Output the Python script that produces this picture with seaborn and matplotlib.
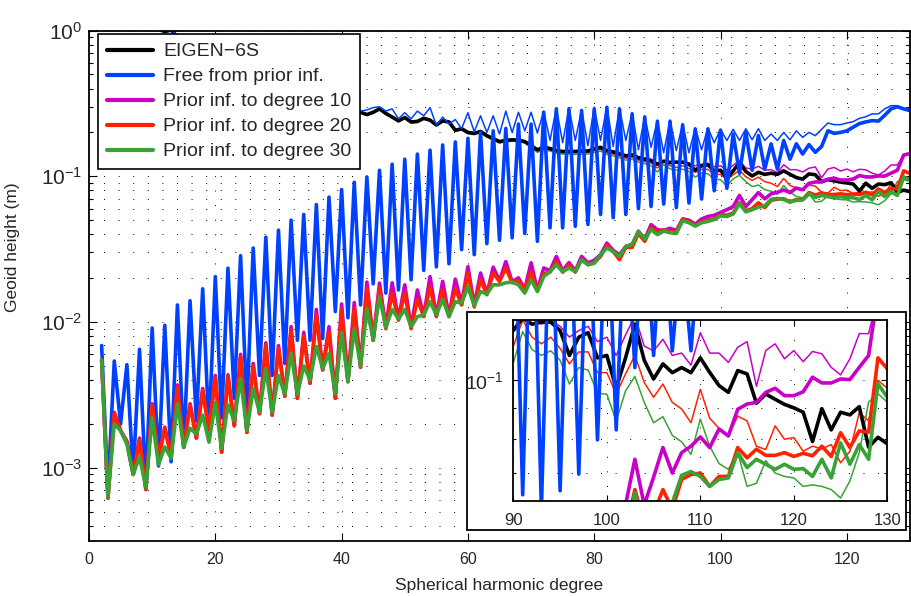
import numpy as np
import pandas as pd
import seaborn as sns
import matplotlib
matplotlib.use("Agg")
import matplotlib.pyplot as plt
from matplotlib.ticker import FixedLocator, NullFormatter, LogFormatterSciNotation
from matplotlib.patches import Rectangle

# ---------------------------------------------------------------------------
# Geoid degree amplitudes (m), spherical harmonic degrees 2..130
# ---------------------------------------------------------------------------
degree = np.arange(2, 131)

eigen6s = [
    2.9, 1.9, 1.75, 1.55, 1.35, 1.45, 1.2, 1.15, 1.05,
    1.02, 0.985, 1.01, 0.9, 0.85, 0.8, 0.74, 0.7, 0.66, 0.62,
    0.58, 0.55, 0.52, 0.5, 0.47, 0.46, 0.44, 0.42, 0.41, 0.39,
    0.38, 0.37, 0.355, 0.345, 0.335, 0.325, 0.315, 0.305, 0.3, 0.29,
    0.285, 0.28, 0.275, 0.265, 0.275, 0.29, 0.27, 0.255, 0.24, 0.253,
    0.236, 0.238, 0.25, 0.243, 0.225, 0.24, 0.236, 0.207, 0.212, 0.2,
    0.197, 0.203, 0.19, 0.181, 0.173, 0.176, 0.178, 0.177, 0.173, 0.162,
    0.152, 0.158, 0.155, 0.15, 0.148, 0.148, 0.148, 0.149, 0.149, 0.154,
    0.158, 0.15, 0.147, 0.143, 0.138, 0.14, 0.134, 0.131, 0.128, 0.121,
    0.127, 0.124, 0.125, 0.125, 0.121, 0.11, 0.118, 0.12, 0.109, 0.11,
    0.097, 0.109, 0.124, 0.108, 0.1005, 0.1065, 0.103, 0.105, 0.103, 0.109,
    0.1031, 0.098, 0.0955, 0.1038, 0.1025, 0.0916, 0.0949, 0.093, 0.0912, 0.09,
    0.0885, 0.0791, 0.0897, 0.0827, 0.0885, 0.0876, 0.0904, 0.0774, 0.0804, 0.0784,
]

free_err = [
    6.9e-3, 7.0e-4, 5.4e-3, 2.0e-3, 5.1e-3, 9.1e-4, 6.5e-3, 7.3e-4, 9.1e-3,
    1.03e-3, 9.5e-3, 1.1e-3, 0.0131, 1.38e-3, 0.014, 2.1e-3, 0.0169, 1.8e-3, 0.0205,
    2.2e-3, 0.0234, 3.0e-3, 0.0285, 2.6e-3, 0.0322, 4.3e-3, 0.0382, 4.3e-3, 0.0427,
    5.2e-3, 0.05, 7.5e-3, 0.0547, 7.5e-3, 0.064, 7.7e-3, 0.072, 0.0118, 0.081,
    0.0107, 0.091, 0.0131, 0.099, 0.0183, 0.11, 0.0158, 0.121, 0.0166, 0.131,
    0.0195, 0.142, 0.0226, 0.151, 0.0239, 0.164, 0.0251, 0.172, 0.0314, 0.182,
    0.029, 0.2, 0.0345, 0.205, 0.0364, 0.213, 0.0378, 0.228, 0.0405, 0.228,
    0.0358, 0.275, 0.0443, 0.29, 0.0443, 0.29, 0.0454, 0.282, 0.0467, 0.29,
    0.0547, 0.297, 0.052, 0.29, 0.0547, 0.268, 0.06, 0.255, 0.062, 0.238,
    0.0645, 0.238, 0.061, 0.225, 0.0655, 0.211, 0.0698, 0.211, 0.0796, 0.207,
    0.0827, 0.195, 0.105, 0.2, 0.11, 0.19, 0.112, 0.167, 0.112, 0.176,
    0.131, 0.167, 0.142, 0.165, 0.146, 0.16, 0.205, 0.197, 0.2, 0.205,
    0.217, 0.23, 0.236, 0.241, 0.239, 0.262, 0.29, 0.3, 0.29, 0.282,
]

free_sig = [
    2.8, 1.95, 1.7, 1.6, 1.3, 1.5, 1.15, 1.2, 1.03,
    1.05, 0.99, 1.0, 0.92, 0.84, 0.82, 0.73, 0.72, 0.65, 0.63,
    0.57, 0.56, 0.51, 0.51, 0.46, 0.47, 0.43, 0.43, 0.40, 0.40,
    0.37, 0.38, 0.35, 0.355, 0.33, 0.335, 0.31, 0.315, 0.295, 0.30,
    0.28, 0.29, 0.28, 0.285, 0.296, 0.30, 0.28, 0.29, 0.248, 0.273,
    0.248, 0.28, 0.26, 0.296, 0.224, 0.255, 0.228, 0.245, 0.212, 0.273,
    0.202, 0.26, 0.2, 0.26, 0.195, 0.28, 0.2, 0.275, 0.205, 0.275,
    0.198, 0.28, 0.176, 0.295, 0.17, 0.295, 0.176, 0.288, 0.162, 0.298,
    0.176, 0.302, 0.16, 0.295, 0.176, 0.272, 0.152, 0.26, 0.158, 0.243,
    0.145, 0.243, 0.15, 0.23, 0.145, 0.215, 0.152, 0.215, 0.17, 0.21,
    0.176, 0.21, 0.176, 0.212, 0.178, 0.212, 0.176, 0.195, 0.176, 0.2,
    0.178, 0.205, 0.185, 0.2, 0.19, 0.21, 0.232, 0.226, 0.226, 0.232,
    0.237, 0.25, 0.256, 0.268, 0.268, 0.29, 0.305, 0.305, 0.292, 0.288,
]

prior10_err = [
    5.5e-3, 6.2e-4, 2.4e-3, 1.8e-3, 1.52e-3, 9.0e-4, 1.6e-3, 7.1e-4, 2.75e-3,
    1.16e-3, 1.9e-3, 1.2e-3, 3.7e-3, 1.39e-3, 2.75e-3, 1.6e-3, 3.5e-3, 1.8e-3, 4.3e-3,
    1.28e-3, 4.35e-3, 1.95e-3, 6.0e-3, 1.75e-3, 5.2e-3, 2.35e-3, 7.2e-3, 2.3e-3, 6.9e-3,
    3.1e-3, 9.3e-3, 3.0e-3, 8.5e-3, 3.8e-3, 0.0122, 4.7e-3, 9.3e-3, 3.0e-3, 0.0133,
    3.9e-3, 0.0136, 4.9e-3, 0.0188, 7.5e-3, 0.0185, 0.0092, 0.0186, 0.0105, 0.018,
    0.0092, 0.0166, 0.011, 0.0205, 0.011, 0.019, 0.011, 0.0197, 0.0133, 0.024,
    0.013, 0.0217, 0.0156, 0.0238, 0.0192, 0.026, 0.0188, 0.0201, 0.0168, 0.0255,
    0.0165, 0.0235, 0.0225, 0.0282, 0.0225, 0.0256, 0.0225, 0.0282, 0.0255, 0.0265,
    0.029, 0.0348, 0.031, 0.029, 0.033, 0.034, 0.042, 0.037, 0.0466, 0.043,
    0.0425, 0.044, 0.0425, 0.051, 0.05, 0.047, 0.051, 0.053, 0.054, 0.0565,
    0.059, 0.062, 0.0739, 0.062, 0.069, 0.0773, 0.0701, 0.0758, 0.0777, 0.0805,
    0.0773, 0.083, 0.0808, 0.0895, 0.0913, 0.0919, 0.0955, 0.097, 0.0943, 0.0943,
    0.0957, 0.1012, 0.099, 0.099, 0.1005, 0.1003, 0.1051, 0.11, 0.14, 0.143,
]

prior10_sig = [
    2.85, 1.92, 1.72, 1.57, 1.33, 1.47, 1.18, 1.17, 1.04,
    1.03, 0.98, 1.02, 0.89, 0.86, 0.79, 0.75, 0.69, 0.67, 0.61,
    0.59, 0.54, 0.53, 0.49, 0.48, 0.45, 0.45, 0.41, 0.42, 0.38,
    0.385, 0.36, 0.36, 0.34, 0.34, 0.32, 0.32, 0.30, 0.305, 0.285,
    0.287, 0.279, 0.276, 0.266, 0.274, 0.289, 0.271, 0.254, 0.241, 0.252,
    0.237, 0.238, 0.249, 0.244, 0.226, 0.239, 0.236, 0.208, 0.212, 0.2,
    0.198, 0.203, 0.19, 0.182, 0.174, 0.176, 0.178, 0.178, 0.173, 0.163,
    0.153, 0.158, 0.155, 0.151, 0.149, 0.149, 0.148, 0.15, 0.15, 0.155,
    0.159, 0.151, 0.149, 0.144, 0.14, 0.141, 0.136, 0.133, 0.131, 0.122,
    0.127, 0.127, 0.124, 0.126, 0.123, 0.118, 0.121, 0.123, 0.116, 0.118,
    0.11, 0.119, 0.128, 0.114, 0.112, 0.117, 0.11, 0.111, 0.106, 0.12,
    0.111, 0.111, 0.1071, 0.1135, 0.116, 0.0977, 0.1121, 0.115, 0.1086, 0.1121,
    0.1074, 0.1117, 0.1107, 0.1051, 0.1021, 0.1086, 0.1196, 0.1196, 0.138, 0.142,
]

prior20_err = [
    5.5e-3, 6.2e-4, 2.35e-3, 1.8e-3, 1.5e-3, 9.0e-4, 1.56e-3, 7.1e-4, 2.7e-3,
    1.16e-3, 1.87e-3, 1.2e-3, 3.6e-3, 1.39e-3, 2.7e-3, 1.6e-3, 3.4e-3, 1.8e-3, 4.2e-3,
    1.28e-3, 4.25e-3, 1.94e-3, 5.8e-3, 1.75e-3, 5.0e-3, 2.35e-3, 6.9e-3, 2.3e-3, 6.6e-3,
    3.1e-3, 8.8e-3, 3.0e-3, 8.0e-3, 3.8e-3, 0.0112, 4.7e-3, 8.6e-3, 3.0e-3, 0.0122,
    3.9e-3, 0.0124, 4.9e-3, 0.017, 7.5e-3, 0.0172, 0.009, 0.0158, 0.0103, 0.0158,
    0.009, 0.0143, 0.0109, 0.0175, 0.0109, 0.0166, 0.0109, 0.017, 0.0131, 0.0217,
    0.0127, 0.0195, 0.0154, 0.0217, 0.019, 0.0235, 0.0186, 0.0192, 0.0166, 0.0222,
    0.0163, 0.0215, 0.022, 0.026, 0.022, 0.0245, 0.022, 0.0268, 0.0248, 0.0255,
    0.0282, 0.0335, 0.0305, 0.0268, 0.0325, 0.0325, 0.0405, 0.0358, 0.0445, 0.0409,
    0.043, 0.0415, 0.0415, 0.0505, 0.049, 0.046, 0.0485, 0.05, 0.051, 0.0545,
    0.054, 0.056, 0.0658, 0.058, 0.06, 0.0658, 0.061, 0.0684, 0.0697, 0.0701,
    0.0666, 0.0692, 0.0692, 0.0773, 0.0743, 0.0768, 0.075, 0.075, 0.0758, 0.0747,
    0.0756, 0.0749, 0.0777, 0.0747, 0.0818, 0.0773, 0.0824, 0.082, 0.109, 0.1045,
]

prior20_sig = [
    2.88, 1.88, 1.76, 1.53, 1.36, 1.43, 1.21, 1.13, 1.06,
    1.01, 0.99, 1.0, 0.91, 0.84, 0.81, 0.73, 0.71, 0.65, 0.63,
    0.57, 0.555, 0.515, 0.505, 0.465, 0.465, 0.435, 0.425, 0.405, 0.395,
    0.375, 0.372, 0.35, 0.347, 0.33, 0.327, 0.31, 0.307, 0.296, 0.292,
    0.283, 0.278, 0.273, 0.264, 0.273, 0.288, 0.268, 0.253, 0.239, 0.251,
    0.234, 0.236, 0.248, 0.241, 0.223, 0.238, 0.234, 0.205, 0.21, 0.198,
    0.195, 0.201, 0.188, 0.179, 0.171, 0.174, 0.176, 0.175, 0.171, 0.16,
    0.149, 0.155, 0.152, 0.147, 0.145, 0.145, 0.145, 0.146, 0.146, 0.15,
    0.153, 0.145, 0.142, 0.138, 0.133, 0.135, 0.129, 0.126, 0.123, 0.114,
    0.126, 0.118, 0.115, 0.118, 0.113, 0.1065, 0.1115, 0.1115, 0.103, 0.103,
    0.0949, 0.1025, 0.11, 0.0992, 0.0937, 0.0986, 0.0919, 0.0896, 0.085, 0.0966,
    0.0865, 0.0832, 0.0808, 0.0872, 0.0856, 0.0777, 0.0767, 0.084, 0.0798, 0.0803,
    0.0762, 0.0777, 0.0769, 0.0782, 0.0729, 0.0762, 0.0884, 0.0856, 0.1, 0.097,
]

prior30_err = [
    5.5e-3, 6.3e-4, 2.0e-3, 1.8e-3, 1.45e-3, 9.0e-4, 1.19e-3, 7.3e-4, 2.2e-3,
    1.05e-3, 1.39e-3, 1.16e-3, 2.75e-3, 1.39e-3, 1.87e-3, 1.7e-3, 2.3e-3, 1.5e-3, 2.8e-3,
    1.36e-3, 2.7e-3, 2.1e-3, 4.1e-3, 1.8e-3, 3.5e-3, 2.4e-3, 4.8e-3, 2.4e-3, 4.3e-3,
    3.2e-3, 6.1e-3, 3.2e-3, 5.0e-3, 4.0e-3, 6.8e-3, 4.8e-3, 6.1e-3, 3.2e-3, 8.5e-3,
    3.9e-3, 9.0e-3, 5.0e-3, 0.0124, 7.6e-3, 0.015, 0.0092, 0.0122, 0.0105, 0.0122,
    0.0093, 0.0109, 0.0112, 0.0138, 0.0112, 0.0143, 0.0109, 0.0138, 0.0135, 0.0175,
    0.013, 0.0162, 0.0156, 0.018, 0.018, 0.0186, 0.0188, 0.018, 0.0158, 0.0195,
    0.0162, 0.0205, 0.0222, 0.0247, 0.0222, 0.0235, 0.0222, 0.0268, 0.0247, 0.0253,
    0.029, 0.0322, 0.0305, 0.0282, 0.033, 0.034, 0.0419, 0.037, 0.0431, 0.0398,
    0.042, 0.041, 0.0405, 0.0495, 0.048, 0.0455, 0.048, 0.049, 0.0505, 0.0535,
    0.053, 0.055, 0.065, 0.057, 0.059, 0.0615, 0.0625, 0.0695, 0.0705, 0.0692,
    0.0666, 0.0684, 0.0688, 0.0758, 0.0716, 0.0739, 0.0725, 0.0711, 0.0725, 0.0711,
    0.0713, 0.0692, 0.0739, 0.0688, 0.0787, 0.0725, 0.0782, 0.0739, 0.0987, 0.0937,
]

prior30_sig = [
    2.86, 1.9, 1.73, 1.54, 1.34, 1.44, 1.19, 1.14, 1.04,
    1.0, 0.97, 0.99, 0.9, 0.83, 0.79, 0.72, 0.69, 0.64, 0.61,
    0.56, 0.54, 0.505, 0.49, 0.455, 0.45, 0.425, 0.41, 0.395, 0.38,
    0.365, 0.36, 0.342, 0.335, 0.322, 0.315, 0.303, 0.295, 0.289, 0.28,
    0.281, 0.276, 0.271, 0.262, 0.271, 0.286, 0.266, 0.251, 0.237, 0.249,
    0.232, 0.234, 0.246, 0.239, 0.221, 0.236, 0.232, 0.203, 0.208, 0.196,
    0.193, 0.199, 0.186, 0.177, 0.169, 0.172, 0.174, 0.173, 0.169, 0.158,
    0.146, 0.152, 0.149, 0.144, 0.142, 0.142, 0.141, 0.142, 0.142, 0.146,
    0.149, 0.141, 0.138, 0.134, 0.129, 0.131, 0.125, 0.122, 0.118, 0.107,
    0.1205, 0.1125, 0.11, 0.112, 0.108, 0.0986, 0.105, 0.104, 0.0952, 0.0948,
    0.0856, 0.096, 0.1015, 0.0919, 0.085, 0.087, 0.081, 0.079, 0.0753, 0.0862,
    0.0777, 0.0727, 0.0711, 0.0758, 0.0666, 0.0674, 0.0735, 0.0701, 0.0692, 0.0688,
    0.0666, 0.067, 0.0666, 0.0658, 0.0637, 0.068, 0.0758, 0.092, 0.095, 0.092,
]

legend_labels = [
    "EIGEN\u22126S",
    "Free from prior inf.",
    "Prior inf. to degree 10",
    "Prior inf. to degree 20",
    "Prior inf. to degree 30",
]

# ---------------------------------------------------------------------------
# Style
# ---------------------------------------------------------------------------
sns.set_style("ticks")
plt.rcParams["font.family"] = ["Liberation Sans", "DejaVu Sans"]
plt.rcParams["mathtext.fontset"] = "custom"
plt.rcParams["mathtext.rm"] = "Liberation Sans"
plt.rcParams["mathtext.it"] = "Liberation Sans:italic"
plt.rcParams["mathtext.bf"] = "Liberation Sans:bold"
plt.rcParams["mathtext.default"] = "regular"
plt.rcParams["axes.unicode_minus"] = True

BLACK = "#000000"
BLUE = "#0041ff"
MAGENTA = "#c800c8"
RED = "#ff2200"
GREEN = "#38a235"
THICK = 2.6
THIN = 1.1

# (key, values, colour, width) in drawing order
layers = [
    ("p10_sig", prior10_sig, MAGENTA, THIN),
    ("p20_sig", prior20_sig, RED, THIN),
    ("p30_sig", prior30_sig, GREEN, THIN),
    ("eigen", eigen6s, BLACK, THICK),
    ("free_err", free_err, BLUE, THICK),
    ("free_sig", free_sig, BLUE, THIN),
    ("p10_err", prior10_err, MAGENTA, THICK),
    ("p20_err", prior20_err, RED, THICK),
    ("p30_err", prior30_err, GREEN, THICK),
]
legend_keys = ["eigen", "free_err", "p10_err", "p20_err", "p30_err"]

dotted = (0, (1, 14))


def draw_curves(axis):
    handles = {}
    for key, vals, color, lw in layers:
        sns.lineplot(x=degree, y=vals, ax=axis, color=color, linewidth=lw,
                     estimator=None, sort=False, legend=False)
        handles[key] = axis.lines[-1]
    return handles


def style_box(axis, major_len, minor_len, width):
    for sp in axis.spines.values():
        sp.set_visible(True)
        sp.set_linewidth(width)
        sp.set_color("black")
    axis.tick_params(which="both", direction="in", top=True, right=True,
                     color="black", width=0.8)
    axis.tick_params(which="major", length=major_len)
    axis.tick_params(which="minor", length=minor_len)


fig = plt.figure(figsize=(9.11, 5.96), dpi=100)

# ---------------------------------------------------------------------------
# Main axes
# ---------------------------------------------------------------------------
ax = fig.add_axes([0.0977, 0.0928, 0.9012, 0.856])
ax.set_zorder(0)
ax.set_yscale("log")
handles = draw_curves(ax)
ax.set_xlim(0, 130)
ax.set_ylim(10 ** -3.5, 1.0)
ax.xaxis.set_major_locator(FixedLocator([0, 20, 40, 60, 80, 100, 120]))
ax.xaxis.set_minor_locator(FixedLocator([]))
ax.yaxis.set_major_locator(FixedLocator([1e-3, 1e-2, 1e-1, 1e0]))
ax.yaxis.set_minor_locator(FixedLocator(
    [k * 10.0 ** e for e in (-4, -3, -2, -1) for k in range(2, 10)]))
ax.yaxis.set_major_formatter(LogFormatterSciNotation())
ax.yaxis.set_minor_formatter(NullFormatter())
style_box(ax, 6, 3.2, 1.3)
ax.tick_params(axis="x", labelsize=11.5, pad=8)
ax.tick_params(axis="y", labelsize=15, pad=5)
ax.grid(True, which="major", axis="x", color="black", linestyle=dotted, linewidth=0.7)
ax.grid(True, which="both", axis="y", color="black", linestyle=dotted, linewidth=0.7)
ax.set_xlabel("Spherical harmonic degree", fontsize=12.5)
ax.xaxis.set_label_coords(0.5, -0.073)
ax.set_ylabel("Geoid height (m)", fontsize=12.5)
ax.yaxis.set_label_coords(-0.084, 0.576)

leg = ax.legend([handles[k] for k in legend_keys], legend_labels,
                loc="upper left", bbox_to_anchor=(0.011, 0.993), borderaxespad=0,
                frameon=True, fancybox=False, framealpha=1, edgecolor="black",
                fontsize=14, handlelength=2.4, handletextpad=0.5,
                labelspacing=0.38, borderpad=0.45)
leg.get_frame().set_linewidth(1.2)
for ln in leg.get_lines():
    ln.set_linewidth(3.0)

# ---------------------------------------------------------------------------
# Inset: close-up of degrees 90-130
# ---------------------------------------------------------------------------
backdrop = Rectangle((0.5123, 0.1107), 0.4822, 0.3663, transform=fig.transFigure,
                     facecolor="white", edgecolor="black", linewidth=1.3, zorder=1)
fig.add_artist(backdrop)

axi = fig.add_axes([0.5635, 0.1602, 0.4105, 0.3025])
axi.set_zorder(2)
axi.set_yscale("log")
draw_curves(axi)
axi.set_xlim(90, 130)
axi.set_ylim(10 ** -1.2, 10 ** -0.9)
axi.xaxis.set_major_locator(FixedLocator([90, 100, 110, 120, 130]))
axi.xaxis.set_minor_locator(FixedLocator([]))
axi.yaxis.set_major_locator(FixedLocator([0.1]))
axi.yaxis.set_minor_locator(FixedLocator([0.07, 0.08, 0.09]))
axi.yaxis.set_major_formatter(LogFormatterSciNotation())
axi.yaxis.set_minor_formatter(NullFormatter())
style_box(axi, 4, 2.5, 1.3)
axi.tick_params(axis="x", labelsize=12, pad=9)
axi.tick_params(axis="y", labelsize=14, pad=7)
axi.grid(True, which="major", axis="x", color="black", linestyle=dotted, linewidth=0.7)
axi.grid(True, which="both", axis="y", color="black", linestyle=dotted, linewidth=0.7)
axi.set_xlabel("")
axi.set_ylabel("")

fig.savefig("out.png", dpi=100)
